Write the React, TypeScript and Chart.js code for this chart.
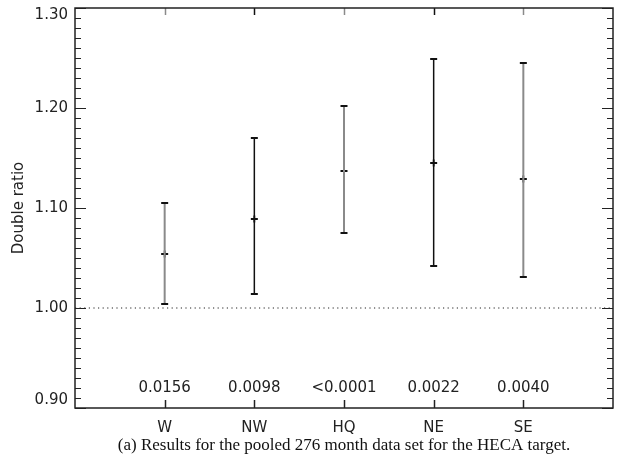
import React, { useEffect, useRef } from "react";
import { Chart, registerables } from "chart.js";

Chart.register(...registerables);

const categories = ["W", "NW", "HQ", "NE", "SE"];
const centerValues = [1.054, 1.089, 1.137, 1.145, 1.129];
const lowerValues = [1.004, 1.014, 1.075, 1.042, 1.031];
const upperValues = [1.105, 1.17, 1.202, 1.249, 1.245];
const pValues = ["0.0156", "0.0098", "<0.0001", "0.0022", "0.0040"];
const yTickValues = [0.9, 1.0, 1.1, 1.2, 1.3];
const referenceLevel = 1.0;
const caption = "(a) Results for the pooled 276 month data set for the HECA target.";

const GRAY = "#8a8a8a";
const BLACK = "#111111";
const barColors = [GRAY, BLACK, GRAY, BLACK, GRAY];
const FONT = "'DejaVu Sans', sans-serif";

const framePlugin = {
  id: "frameAndTicks",
  afterDatasetsDraw(chart: any) {
    const { ctx, chartArea } = chart;
    const xs = chart.scales.x;
    const ys = chart.scales.y;
    const { left, right, top, bottom } = chartArea;
    ctx.save();
    // p-value annotations
    ctx.fillStyle = "#222";
    ctx.font = `15px ${FONT}`;
    ctx.textAlign = "center";
    ctx.textBaseline = "middle";
    pValues.forEach((p, i) => {
      ctx.fillText(p, xs.getPixelForValue(i + 1), bottom - 20);
    });
    // minor / major ticks on left & right
    ctx.strokeStyle = "#222";
    ctx.lineWidth = 1.2;
    const yMin = yTickValues[0];
    const yMax = yTickValues[yTickValues.length - 1];
    const nSteps = Math.round((yMax - yMin) / 0.01);
    for (let k = 0; k <= nSteps; k++) {
      const v = yMin + k * 0.01;
      const py = Math.round(ys.getPixelForValue(v)) + 0.5;
      const len = k % 10 === 0 ? 11 : 6;
      ctx.beginPath();
      ctx.moveTo(left, py);
      ctx.lineTo(left + len, py);
      ctx.moveTo(right, py);
      ctx.lineTo(right - len, py);
      ctx.stroke();
    }
    // category ticks on top & bottom
    categories.forEach((_, i) => {
      const px = Math.round(xs.getPixelForValue(i + 1)) + 0.5;
      ctx.strokeStyle = barColors[i];
      ctx.lineWidth = 1.5;
      ctx.beginPath();
      ctx.moveTo(px, top);
      ctx.lineTo(px, top + 7);
      ctx.stroke();
      ctx.strokeStyle = "#222";
      ctx.beginPath();
      ctx.moveTo(px, bottom);
      ctx.lineTo(px, bottom - 8);
      ctx.stroke();
    });
    // frame
    ctx.strokeStyle = "#222";
    ctx.lineWidth = 1.5;
    ctx.strokeRect(left, top, right - left, bottom - top);
    ctx.restore();
  },
};

export default function App() {
  const canvasRef = useRef<HTMLCanvasElement | null>(null);

  useEffect(() => {
    if (!canvasRef.current) return;
    const barDatasets = categories.map((c, i) => ({
      type: "line" as const,
      label: c,
      data: [
        { x: i + 1, y: lowerValues[i] },
        { x: i + 1, y: upperValues[i] },
      ],
      borderColor: barColors[i],
      borderWidth: barColors[i] === GRAY ? 2 : 1.5,
      pointStyle: "line" as const,
      pointRadius: 3.5,
      pointBorderWidth: 2,
      pointBorderColor: BLACK,
      pointBackgroundColor: BLACK,
      fill: false,
    }));
    const chart = new Chart(canvasRef.current, {
      type: "scatter",
      data: {
        datasets: [
          {
            type: "line" as const,
            label: "ref",
            data: [
              { x: 0, y: referenceLevel },
              { x: categories.length + 1, y: referenceLevel },
            ],
            borderColor: "#222",
            borderWidth: 1,
            borderDash: [1.2, 3.4],
            pointRadius: 0,
            fill: false,
          },
          ...barDatasets,
          {
            type: "scatter" as const,
            label: "center",
            data: centerValues.map((v, i) => ({ x: i + 1, y: v })),
            pointStyle: "cross",
            pointRadius: 3.5,
            borderWidth: 1.8,
            borderColor: BLACK,
            backgroundColor: BLACK,
          },
        ],
      } as any,
      options: {
        animation: false,
        responsive: false,
        maintainAspectRatio: false,
        layout: { padding: { top: 8, right: 6, left: 0, bottom: 0 } },
        plugins: {
          legend: { display: false },
          tooltip: { enabled: false },
          title: {
            display: true,
            position: "bottom",
            fullSize: false,
            text: caption,
            color: "#111",
            font: { family: "'Liberation Serif', 'Times New Roman', serif", size: 17, weight: "normal", lineHeight: 1.2 },
            padding: { top: 0, bottom: 3 },
          },
        },
        scales: {
          x: {
            type: "linear",
            min: 0,
            max: categories.length + 1,
            grid: { display: false, drawTicks: false },
            border: { display: false },
            afterBuildTicks: (scale: any) => {
              scale.ticks = categories.map((_, i) => ({ value: i + 1 }));
            },
            afterFit: (scale: any) => {
              scale.height = 27.6;
            },
            ticks: {
              autoSkip: false,
              maxRotation: 0,
              padding: 11,
              color: "#222",
              font: { family: FONT, size: 15 },
              callback: (v: any) => categories[Math.round(Number(v)) - 1] ?? "",
            },
          },
          y: {
            type: "linear",
            min: yTickValues[0],
            max: yTickValues[yTickValues.length - 1],
            grid: { display: false, drawTicks: false },
            border: { display: false },
            afterBuildTicks: (scale: any) => {
              scale.ticks = yTickValues.map((v) => ({ value: v }));
            },
            afterFit: (scale: any) => {
              scale.width = 75;
              scale.paddingTop = 0;
              scale.paddingBottom = 0;
            },
            title: {
              display: true,
              text: "Double ratio",
              color: "#222",
              font: { family: FONT, size: 15, lineHeight: 1.2 },
              padding: { top: 10, bottom: 0 },
            },
            ticks: {
              padding: 7,
              color: "#222",
              font: { family: FONT, size: 15, lineHeight: 1 },
              callback: (v: any, idx: number, arr: any[]) => {
                const s = (Math.round(Number(v) * 100) / 100).toFixed(2);
                if (idx === arr.length - 1) return ["", s];
                if (idx === 0) return [s, ""];
                return s;
              },
            },
          },
        },
      } as any,
      plugins: [framePlugin],
    });
    return () => chart.destroy();
  }, []);

  return (
    <div style={{ position: "fixed", left: 0, top: 0, width: 619, height: 459, background: "#fff" }}>
      <canvas ref={canvasRef} width={619} height={459} />
    </div>
  );
}
